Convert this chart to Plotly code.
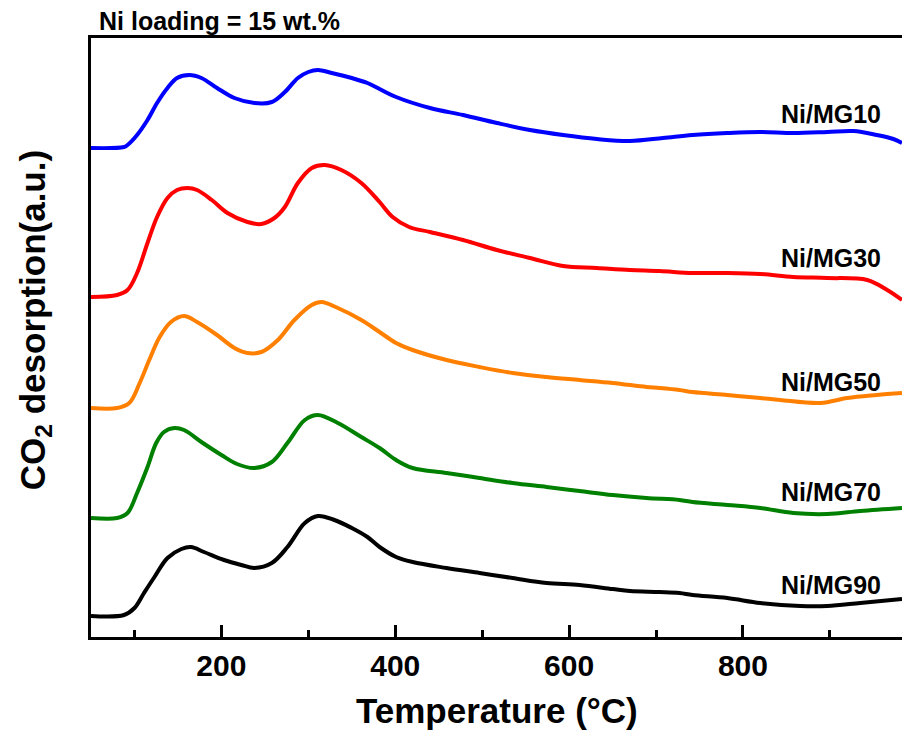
import plotly.graph_objects as go

# ---- data (temperature in °C, CO2 desorption signal in arbitrary units, stacked offsets) ----
names = ["Ni/MG10", "Ni/MG30", "Ni/MG50", "Ni/MG70", "Ni/MG90"]
colors = ["#0000FF", "#FF0000", "#FF8000", "#008000", "#000000"]

t_mg10 = [50, 88, 92, 103, 115, 126, 138, 149, 163, 177, 195, 215, 238, 258, 273, 288, 300, 311, 327, 350, 368,
          382, 401, 440, 478, 517, 555, 593, 632, 670, 708, 742, 782, 820, 858, 897, 927, 954, 973, 983]
y_mg10 = [489, 490, 492, 502, 517, 534, 549, 559, 562, 559, 549, 539, 534, 535, 545, 559, 565, 567, 564, 559, 554,
          548, 540, 529, 522, 514, 507, 502, 498, 496, 499, 502, 504, 505, 504, 505, 506, 502, 498, 494]

t_mg30 = [50, 80, 92, 103, 115, 126, 138, 149, 161, 172, 189, 207, 230, 246, 261, 273, 288, 304, 319, 338,
          361, 382, 397, 416, 440, 478, 517, 555, 593, 632, 670, 704, 742, 782, 820, 858, 897, 943, 966, 983]
y_mg30 = [340, 342, 347, 364, 394, 420, 439, 447, 449, 447, 437, 424, 415, 413, 419, 430, 454, 469, 472, 467,
          454, 435, 420, 410, 405, 397, 387, 379, 371, 369, 367, 366, 364, 364, 363, 360, 359, 357, 347, 337]

t_mg50 = [50, 80, 94, 106, 117, 129, 142, 157, 172, 195, 215, 230, 246, 265, 284, 304, 315, 334, 361, 382,
          401, 420, 459, 497, 535, 574, 612, 650, 689, 704, 727, 742, 782, 820, 843, 889, 920, 954, 983]
y_mg50 = [229, 229, 234, 254, 277, 300, 315, 321, 315, 302, 289, 284, 285, 297, 317, 332, 335, 329, 317, 305,
          294, 287, 277, 270, 264, 260, 257, 254, 250, 249, 247, 245, 242, 239, 237, 234, 239, 242, 244]

t_mg70 = [50, 80, 92, 103, 115, 125, 134, 146, 157, 177, 200, 218, 238, 258, 276, 296, 311, 334, 361, 382,
          401, 420, 459, 497, 535, 574, 612, 650, 689, 727, 742, 782, 820, 858, 897, 935, 983]
y_mg70 = [119, 119, 124, 144, 170, 194, 205, 209, 207, 195, 182, 173, 169, 175, 194, 217, 222, 214, 200, 189,
          177, 169, 164, 159, 154, 150, 146, 142, 139, 137, 135, 132, 129, 124, 123, 126, 129]

t_mg90 = [50, 88, 100, 111, 123, 138, 154, 165, 180, 203, 223, 238, 258, 276, 296, 311, 330, 350, 368, 382,
          401, 420, 459, 497, 535, 574, 612, 650, 670, 704, 727, 742, 782, 820, 866, 897, 935, 983]
y_mg90 = [21, 22, 29, 44, 60, 79, 88, 90, 85, 77, 72, 69, 74, 90, 114, 121, 117, 109, 100, 90,
          80, 75, 69, 64, 59, 54, 52, 48, 46, 45, 44, 42, 39, 34, 31, 31, 34, 38]

series_t = [t_mg10, t_mg30, t_mg50, t_mg70, t_mg90]
series_y = [y_mg10, y_mg30, y_mg50, y_mg70, y_mg90]

x_tickvals = [200, 400, 600, 800]
x_minor_tickvals = [100, 300, 500, 700, 900]
title_text = "Ni loading = 15 wt.%"
x_title = "Temperature (°C)"
y_title = "CO<sub>2</sub> desorption(a.u.)"

FONT = "Arial, 'Liberation Sans', sans-serif"

fig = go.Figure()
for name, col, t, y in zip(names, colors, series_t, series_y):
    fig.add_trace(go.Scatter(x=t, y=y, mode="lines", name=name,
                             line=dict(color=col, width=4, shape="spline", smoothing=1.0)))

# curve labels (placed near right end, above each curve)
label_y = [523, 379, 255, 145, 52]
for name, ly in zip(names, label_y):
    fig.add_annotation(x=901, y=ly, xref="x", yref="y", text=name, showarrow=False,
                       xanchor="center", yanchor="middle",
                       font=dict(family=FONT, size=25, color="black", weight="bold"))

fig.add_annotation(x=0.0074, y=1.028, xref="paper", yref="paper", text=title_text, showarrow=False,
                   xanchor="left", yanchor="middle",
                   font=dict(family=FONT, size=25, color="black", weight="bold"))
fig.add_annotation(x=0.5, y=-0.1235, xref="paper", yref="paper", text=x_title, showarrow=False,
                   xanchor="center", yanchor="middle",
                   font=dict(family=FONT, size=35, color="black", weight="bold"))
fig.add_annotation(x=-0.069, y=0.529, xref="paper", yref="paper", text=y_title, showarrow=False,
                   textangle=-90, xanchor="center", yanchor="middle",
                   font=dict(family=FONT, size=35, color="black", weight="bold"))

fig.update_layout(
    width=902, height=733,
    margin=dict(l=91, r=0, t=38, b=96),
    paper_bgcolor="white", plot_bgcolor="white",
    showlegend=False,
    xaxis=dict(range=[50, 983], showgrid=False, zeroline=False,
               showline=True, linecolor="black", linewidth=3, mirror=True,
               ticks="inside", ticklen=12, tickwidth=2.5, tickcolor="black",
               tickvals=x_tickvals,
               minor=dict(ticks="inside", ticklen=7, tickwidth=2.5, tickcolor="black",
                          tickvals=x_minor_tickvals),
               tickfont=dict(family=FONT, size=30, color="black", weight="bold")),
    yaxis=dict(range=[0, 599], showgrid=False, zeroline=False,
               showline=True, linecolor="black", linewidth=3, mirror=False,
               showticklabels=False, ticks=""),
)

fig.write_html("out.html")
